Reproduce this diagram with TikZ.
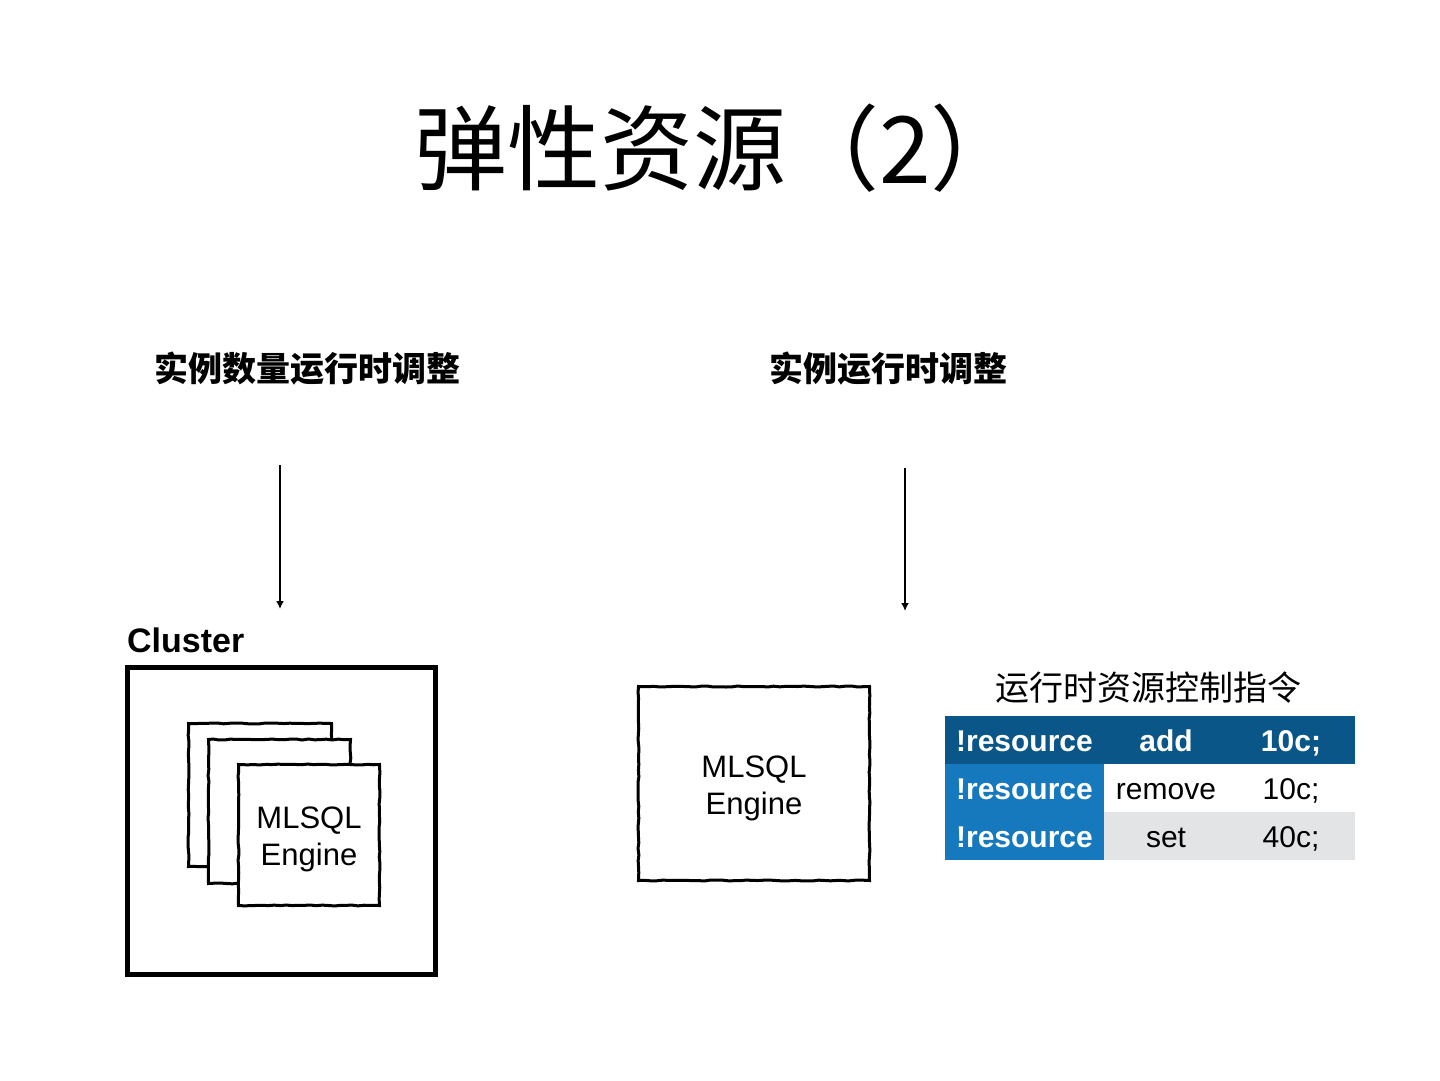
\documentclass[tikz,border=0pt]{standalone}
\usepackage{fontspec}
\setmainfont{Liberation Sans}
\newfontfamily\cjk{Noto Sans CJK SC}
\usetikzlibrary{arrows.meta,decorations.pathmorphing}
\definecolor{hdrblue}{HTML}{0B5688}
\definecolor{colblue}{HTML}{1679BD}
\definecolor{rowgrey}{HTML}{E3E4E6}
\tikzset{
  arr/.style={line width=1.8pt, -{Latex[length=8pt,width=8pt]}},
  sketchbox/.style={draw, line width=3pt, fill=white, inner sep=0pt,
    decorate, decoration={random steps, segment length=6pt, amplitude=0.5pt}},
  enginetext/.style={align=center, inner sep=0pt, font=\fontsize{31}{37}\selectfont},
  cell/.style={inner sep=0pt, anchor=base, font=\fontsize{30}{36}\selectfont},
  bcell/.style={cell, text=white, font=\bfseries\fontsize{30}{36}\selectfont},
  sub/.style={font=\cjk\bfseries\fontsize{34}{40}\selectfont}
}
\begin{document}
\begin{tikzpicture}[x=1pt,y=-1pt]
\pgfmathsetseed{7}
\useasboundingbox[fill=white] (0,0) rectangle (1440,1081);

% title
\node[anchor=west, inner sep=0pt] (title) at (414,148) {\cjk\fontsize{93}{100}\selectfont 弹性资源（2）};

% subtitles
\node[sub] (sub1) at (307,369) {实例数量运行时调整};
\node[sub] (sub2) at (888,369) {实例运行时调整};

% arrows
\coordinate (a1s) at (280,465);
\coordinate (a1e) at (280,609);
\coordinate (a2s) at (905,468);
\coordinate (a2e) at (905,611);
\draw[arr] (a1s) -- (a1e);
\draw[arr] (a2s) -- (a2e);

% cluster
\node[anchor=west, inner sep=0pt, font=\bfseries\fontsize{34}{40}\selectfont] (clusterlbl) at (127,640) {Cluster};
\node[draw, line width=5pt, minimum width=308pt, minimum height=307pt, inner sep=0pt] (cluster) at (281.5,821) {};
\node[sketchbox, minimum width=143pt, minimum height=143pt] (eng1) at (260,795) {};
\node[sketchbox, minimum width=142pt, minimum height=144pt] (eng2) at (279.5,811.5) {};
\node[sketchbox, minimum width=141pt, minimum height=141pt] (eng3) at (309,835) {};
\node[enginetext] (eng3txt) at (309,839) {MLSQL\\Engine};

% single engine
\node[sketchbox, minimum width=231pt, minimum height=194pt] (engR) at (754,783.5) {};
\node[enginetext] (engRtxt) at (754,788) {MLSQL\\Engine};

% table
\node (thead) at (1148,688) {\cjk\fontsize{34}{40}\selectfont 运行时资源控制指令};
\fill[hdrblue] (945,716) rectangle (1355,764);
\fill[colblue] (945,764) rectangle (1104,860);
\fill[white] (1104,764) rectangle (1355,812);
\fill[rowgrey] (1104,812) rectangle (1355,860);

\node[bcell] (r1a) at (1024.5,751) {!resource};
\node[bcell] (r1b) at (1166,751) {add};
\node[bcell] (r1c) at (1291,751) {10c;};

\node[bcell] (r2a) at (1024.5,799) {!resource};
\node[cell] (r2b) at (1166,799) {remove};
\node[cell] (r2c) at (1291,799) {10c;};

\node[bcell] (r3a) at (1024.5,847) {!resource};
\node[cell] (r3b) at (1166,847) {set};
\node[cell] (r3c) at (1291,847) {40c;};
\end{tikzpicture}
\end{document}
